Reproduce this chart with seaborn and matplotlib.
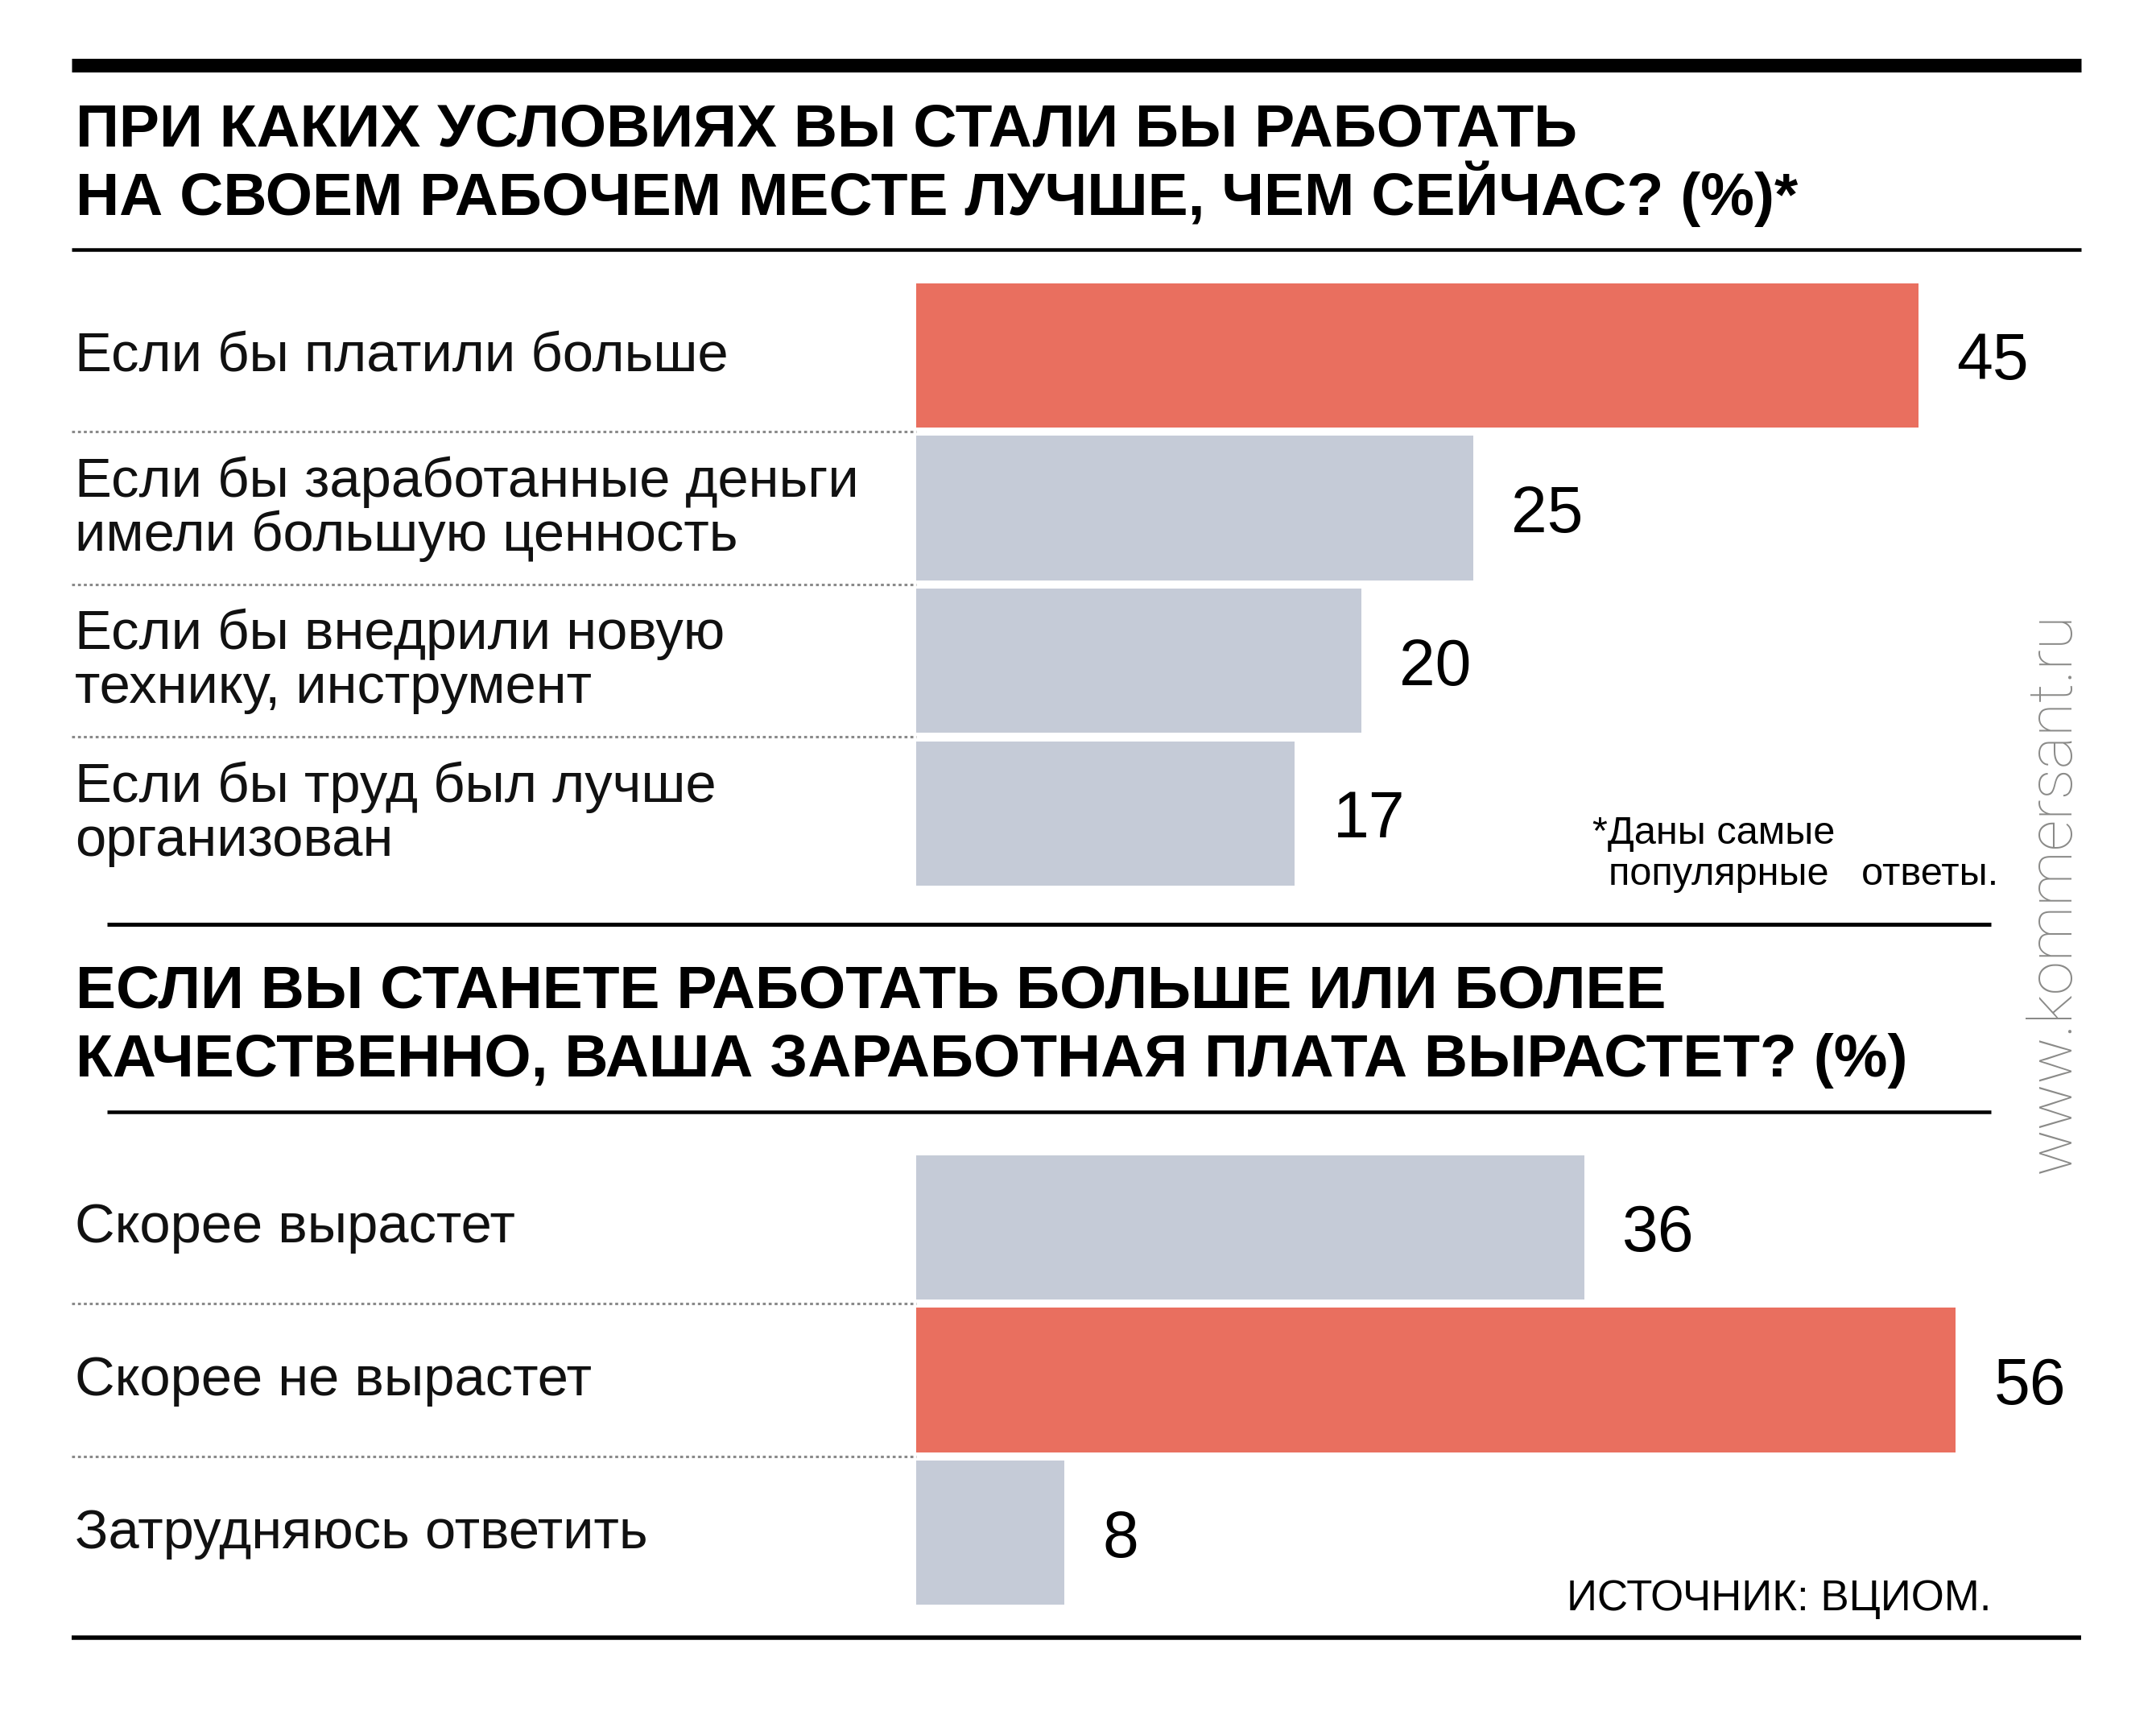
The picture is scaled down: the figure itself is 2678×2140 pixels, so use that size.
import matplotlib
matplotlib.use('Agg')
import matplotlib.pyplot as plt
import seaborn as sns
import pandas as pd
from matplotlib.lines import Line2D
from matplotlib.transforms import blended_transform_factory, offset_copy

sns.set_theme(style='white')
plt.rcParams['font.family'] = ['Liberation Sans', 'DejaVu Sans']

# ---------------- data ----------------
q1_title = ["ПРИ КАКИХ УСЛОВИЯХ ВЫ СТАЛИ БЫ РАБОТАТЬ",
            "НА СВОЕМ РАБОЧЕМ МЕСТЕ ЛУЧШЕ, ЧЕМ СЕЙЧАС? (%)*"]
q1_categories = ["Если бы платили больше",
                 "Если бы заработанные деньги\nимели большую ценность",
                 "Если бы внедрили новую\nтехнику, инструмент",
                 "Если бы труд был лучше\nорганизован"]
q1_values = [45, 25, 20, 17]
q1_highlight = [True, False, False, False]

q2_title = ["ЕСЛИ ВЫ СТАНЕТЕ РАБОТАТЬ БОЛЬШЕ ИЛИ БОЛЕЕ",
            "КАЧЕСТВЕННО, ВАША ЗАРАБОТНАЯ ПЛАТА ВЫРАСТЕТ? (%)"]
q2_categories = ["Скорее вырастет", "Скорее не вырастет", "Затрудняюсь ответить"]
q2_values = [36, 56, 8]
q2_highlight = [False, True, False]

footnote_lines = ["*Даны самые", "популярные   ответы."]
source = "ИСТОЧНИК: ВЦИОМ."
watermark = "www.kommersant.ru"

RED = "#E96F5F"
GREY = "#C5CBD7"

# ---------------- figure ----------------
W, H, DPI = 2678, 2140, 100
PT = 72 / DPI
fig = plt.figure(figsize=(W / DPI, H / DPI), dpi=DPI, facecolor='white')


def fx(x):
    return x / W


def fy(y):
    return 1 - y / H


def hline(y, x0, x1, lw_px, color='black'):
    fig.add_artist(Line2D([fx(x0), fx(x1)], [fy(y), fy(y)], transform=fig.transFigure,
                          color=color, lw=lw_px * PT, solid_capstyle='butt'))


LABEL_FS = 49.5
CAP = 48      # cap height in px
LEAD = 67     # line pitch in px


def bar_panel(rect_px, cats, vals, hl, xmax):
    x0, y0, x1, y1 = rect_px
    ax = fig.add_axes([fx(x0), fy(y1), fx(x1) - fx(x0), (y1 - y0) / H])
    df = pd.DataFrame({'cat': cats, 'val': vals})
    pal = {c: (RED if h else GREY) for c, h in zip(cats, hl)}
    sns.barplot(data=df, x='val', y='cat', hue='cat', palette=pal, legend=False,
                orient='h', width=0.946, saturation=1, ax=ax, linewidth=0)
    ax.set_xlim(0, xmax)
    ax.set_ylim(len(cats) - 0.5, -0.5)
    ax.axis('off')
    # value labels
    for i, v in enumerate(vals):
        t = offset_copy(ax.transData, fig=fig, x=47 * PT, y=-9 * PT, units='points')
        ax.text(v, i, str(v), transform=t, ha='left', va='center', fontsize=58,
                color='black')
    # category labels + dotted separators
    bt = blended_transform_factory(fig.transFigure, ax.transData)
    for i, c in enumerate(cats):
        lines = c.split("\n")
        n = len(lines)
        first = -5 + CAP / 2 - (n - 1) * LEAD / 2
        for k, ln in enumerate(lines):
            off = first + k * LEAD
            t = offset_copy(bt, fig=fig, x=0, y=-off * PT, units='points')
            fig.text(fx(93), i, ln, transform=t, ha='left', va='baseline',
                     fontsize=LABEL_FS, color='#111111')
    for i in range(len(cats) - 1):
        fig.add_artist(Line2D([fx(89), fx(x0)], [i + 0.5, i + 0.5], transform=bt,
                              color='#8a8a8a', lw=2.2, linestyle=(0, (1.2, 1.2)),
                              solid_capstyle='butt'))
    return ax


# top rule and titles
hline(80.5, 89, 2585, 17)
for k, line in enumerate(q1_title):
    fig.text(fx(94), fy([182, 267][k]), line, ha='left', va='baseline',
             fontsize=54, fontweight='bold', color='black')
hline(310, 89, 2585, 4.5)

ax1 = bar_panel((1138, 346.7, 2585, 1105.1), q1_categories, q1_values, q1_highlight, 1447 / 27.67)

for k, line in enumerate(footnote_lines):
    fig.text(fx([1978, 1998][k]), fy([1048, 1099][k]), line, ha='left', va='baseline',
             fontsize=35, color='black')

hline(1148, 133, 2473, 5)
for k, line in enumerate(q2_title):
    fig.text(fx(94), fy([1252, 1337][k]), line, ha='left', va='baseline',
             fontsize=54, fontweight='bold', color='black')
hline(1381, 133, 2473, 4.5)

ax2 = bar_panel((1138, 1429.6, 2585, 1998.4), q2_categories, q2_values, q2_highlight, 1447 / 23.06)

fig.text(fx(2473), fy(2000), source, ha='right', va='baseline', fontsize=38, color='black')
hline(2033.5, 89, 2585, 5.5)

fig.text(fx(2550), fy(1109), watermark, rotation=90, ha='center', va='center',
         fontsize=55, color='#8a8a88', family=['Roboto', 'DejaVu Sans'], fontweight='light')

fig.savefig('out.png', dpi=DPI, facecolor='white')
